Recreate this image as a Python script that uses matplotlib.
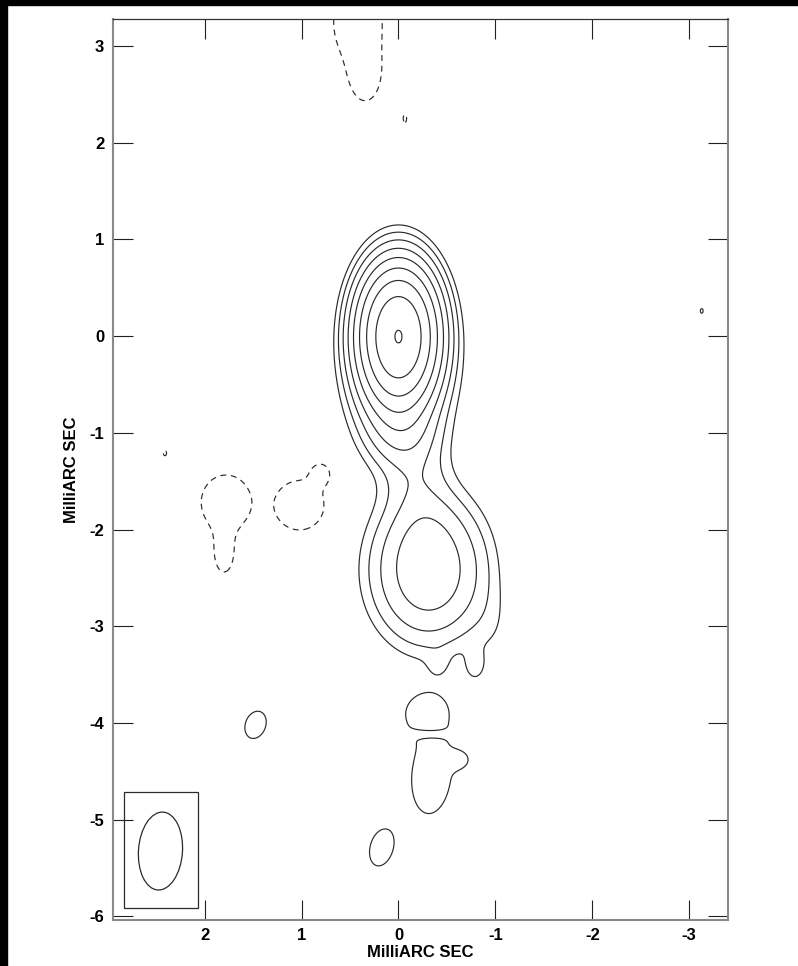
import matplotlib.pyplot as plt
from matplotlib import patches
import numpy as np

# ---------------------------------
# contour levels: base level times multipliers (fraction of the peak)
base_level = 0.0037
pos_mult = [1, 2, 4, 8, 16, 32, 64, 128, 256]
neg_mult = [-1]

# gaussian components of the map (mas), fwhm along RA / Dec, pa in deg
comp_x = [0.00, 0.00, -0.05, -0.17, -0.31, -0.28, -0.05, -0.41, -0.79, -0.95,
          -0.28, -0.34, -0.63, -0.30, 0.175, 1.475, -3.13,
          0.42, 0.34, -0.067, 2.41, 1.78, 1.80, 1.02, 0.80]
comp_y = [0.00, -0.60, -1.00, -1.45, -2.42, -2.00, -0.50, -3.40, -3.42, -3.00,
          -3.885, -4.54, -4.38, -4.115, -5.29, -4.02, 0.26,
          3.25, 2.68, 2.25, -1.21, -1.72, -2.25, -1.75, -1.42]
comp_amp = [0.955, 0.040, 0.020, 0.009, 0.050, 0.008, 0.0050, 0.0030, 0.0040, 0.0025,
            0.0058, 0.0068, 0.0045, -0.0045, 0.0060, 0.0058, 0.0038,
            -0.0065, -0.0060, -0.0039, -0.0039, -0.0090, -0.0060, -0.0090, -0.0060]
comp_fx = [0.46, 0.50, 0.48, 0.48, 0.74, 0.45, 1.00, 0.20, 0.20, 0.40,
           0.46, 0.43, 0.22, 0.50, 0.28, 0.26, 0.15,
           0.55, 0.28, 0.12, 0.12, 0.45, 0.22, 0.45, 0.20]
comp_fy = [0.81, 0.70, 0.50, 0.60, 0.95, 0.60, 1.40, 0.25, 0.30, 0.70,
           0.40, 0.85, 0.18, 0.07, 0.46, 0.36, 0.25,
           0.90, 0.50, 0.28, 0.20, 0.50, 0.45, 0.45, 0.22]
comp_pa = [0, 0, 0, 0, 0, 0, 0, 0, 0, 0,
           -15, 5, 0, 0, 15, 20, 0,
           0, 0, 0, 0, 0, 0, 0, 0]

# restoring beam and its box
beam_x, beam_y = 2.456, -5.325
beam_minor, beam_major, beam_pa = 0.454, 0.807, 4
box_x = [2.833, 2.069]
box_y = [-4.715, -5.915]

x_ticks = [2, 1, 0, -1, -2, -3]
y_ticks = [3, 2, 1, 0, -1, -2, -3, -4, -5, -6]
x_lim = (2.949, -3.404)
y_lim = (-6.038, 3.279)
# --------------------------------

FW2SIG = 1.0 / (2.0 * np.sqrt(2.0 * np.log(2.0)))


def make_map(xx, yy):
    zz = np.zeros_like(xx)
    for x0, y0, a, fx, fy, pa in zip(comp_x, comp_y, comp_amp, comp_fx, comp_fy, comp_pa):
        t = np.radians(pa)
        dx = xx - x0
        dy = yy - y0
        u = dx * np.cos(t) + dy * np.sin(t)
        v = -dx * np.sin(t) + dy * np.cos(t)
        sx = fx * FW2SIG
        sy = fy * FW2SIG
        zz += a * np.exp(-(u**2 / (2 * sx**2) + v**2 / (2 * sy**2)))
    return zz


if __name__ == "__main__":
    plt.rcParams['font.family'] = ['Liberation Sans', 'DejaVu Sans']
    fig = plt.figure(figsize=(7.98, 9.66), dpi=100)
    ax = fig.add_axes([112.7 / 798, 1 - 920 / 966, 615.6 / 798, 901 / 966])

    gx = np.linspace(x_lim[1], x_lim[0], 700)
    gy = np.linspace(y_lim[0], y_lim[1], 1200)
    xx, yy = np.meshgrid(gx, gy)
    zz = make_map(xx, yy)

    pos = [base_level * m for m in pos_mult]
    neg = [base_level * m for m in neg_mult]
    ax.contour(xx, yy, zz, levels=pos, colors='#2a2a2a', linewidths=0.85)
    ax.contour(xx, yy, zz, levels=neg, colors='#2a2a2a', linewidths=0.85,
               linestyles=[(0, (5, 4))])

    ax.add_patch(patches.Rectangle((box_x[1], box_y[1]), box_x[0] - box_x[1],
                                   box_y[0] - box_y[1], fill=False,
                                   ec='#2a2a2a', lw=0.9))
    ax.add_patch(patches.Ellipse((beam_x, beam_y), beam_minor, beam_major,
                                 angle=beam_pa, fill=False, ec='#2a2a2a', lw=0.9))

    ax.set_xlim(*x_lim)
    ax.set_ylim(*y_lim)
    ax.set_xticks(x_ticks)
    ax.set_yticks(y_ticks)
    ax.set_xticklabels([str(t) for t in x_ticks])
    ax.set_yticklabels([str(t) for t in y_ticks])
    ax.tick_params(direction='in', length=14.4, width=0.8, color='#222222',
                   top=True, right=True, labelsize=12, pad=6)
    for lab in ax.get_xticklabels() + ax.get_yticklabels():
        lab.set_fontweight('bold')
    for side in ['left', 'right', 'bottom']:
        ax.spines[side].set_color('#8a8a8a')
        ax.spines[side].set_linewidth(1.5)
    ax.spines['top'].set_color('#333333')
    ax.spines['top'].set_linewidth(0.9)

    ax.set_xlabel('MilliARC SEC', fontsize=12, fontweight='bold', labelpad=1)
    ax.set_ylabel('MilliARC SEC', fontsize=12, fontweight='bold', labelpad=8)

    # black strips at the left and top edges of the image
    fig.patches.append(patches.Rectangle((0, 0), 7 / 798, 1, color='black',
                                         transform=fig.transFigure, zorder=10))
    fig.patches.append(patches.Rectangle((0, 1 - 5 / 966), 1, 5 / 966, color='black',
                                         transform=fig.transFigure, zorder=10))

    fig.savefig('out.png', dpi=100, facecolor='white')
